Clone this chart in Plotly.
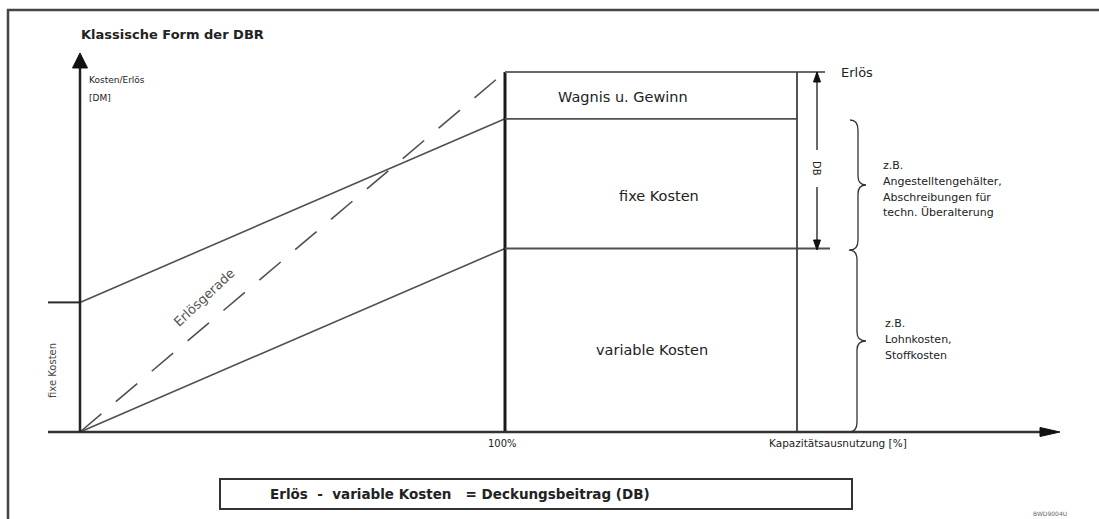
import plotly.graph_objects as go

# ---------------- data ----------------
capacity = [0, 100]            # Kapazitätsausnutzung [%]
fixed_costs = [36, 36]         # fixe Kosten [DM]
variable_costs = [0, 51]       # variable Kosten [DM]
total_costs = [36, 87]         # fixe + variable Kosten [DM]
revenue = [0, 100]             # Erlös (Erlösgerade) [DM]
tick_labels = ["100%", "Kapazitätsausnutzung [%]"]
block_labels = ["Wagnis u. Gewinn", "fixe Kosten", "variable Kosten"]

# ---------------- layout geometry (pixels) ----------------
W, H = 1099, 519
OX, OY = 80, 432            # origin pixel
PX_X = (505 - OX) / 100.0   # pixels per % capacity
PX_Y = 3.6                  # pixels per DM unit
FONT = "DejaVu Sans"
LINE = "#505050"
DARK = "#2a2a2a"


def xd(px):
    return (px - OX) / PX_X


def yd(py):
    return (OY - py) / PX_Y


def P(px, py):
    return px / W, 1 - py / H


def path(points, close=False):
    s = ""
    for i, (a, b) in enumerate(points):
        x, y = P(a, b)
        s += ("M" if i == 0 else "L") + f"{x:.5f},{y:.5f} "
    return s + ("Z" if close else "")


def brace(x_end, x_body, x_tip, y0, y1):
    ym = (y0 + y1) / 2
    def p(a, b):
        x, y = P(a, b)
        return f"{x:.5f},{y:.5f}"
    return (f"M{p(x_end, y0)} Q{p(x_body, y0)} {p(x_body, y0 + 10)} "
            f"L{p(x_body, ym - 9)} Q{p(x_body, ym)} {p(x_tip, ym)} "
            f"Q{p(x_body, ym)} {p(x_body, ym + 9)} "
            f"L{p(x_body, y1 - 10)} Q{p(x_body, y1)} {p(x_end, y1)}")


fig = go.Figure()


def line(x, y, color=LINE, width=1.6, dash=None):
    fig.add_trace(go.Scatter(x=x, y=y, mode="lines", hoverinfo="skip",
                             line=dict(color=color, width=width, dash=dash)))


# cost / revenue lines
line(capacity, total_costs)
line(capacity, variable_costs)
line(capacity, revenue, dash="28px,19px")

# fixed cost marker on the y axis
line([xd(48), 0], fixed_costs, color=DARK, width=2)

# block at 100 %
line([capacity[1], capacity[1]], [0, revenue[1]], color="#1a1a1a", width=3)
line([capacity[1], xd(825)], [revenue[1], revenue[1]], color="#6a6a6a", width=2)
line([capacity[1], xd(797)], [total_costs[1], total_costs[1]], color=LINE, width=1.8)
line([capacity[1], xd(830)], [variable_costs[1], variable_costs[1]], color=LINE, width=2)
line([xd(797), xd(797)], [0, revenue[1]], color="#404040", width=1.8)

# DB dimension line
line([xd(817), xd(817), None, xd(817), xd(817)],
     [revenue[1], yd(150), None, yd(187), variable_costs[1]], color=DARK, width=1.4)

# axes
line([xd(48), xd(1045)], [0, 0], color="#333333", width=2.5)
line([0, 0], [0, yd(66)], color="#222222", width=2.5)

shapes = []
# outer frame
shapes.append(dict(type="path", xref="paper", yref="paper",
                   path=path([(8, 519), (8, 10), (1099, 10)]),
                   line=dict(color="#454545", width=2.5)))
# formula box
x0, y0 = P(220, 479)
x1, y1 = P(852, 509)
shapes.append(dict(type="rect", xref="paper", yref="paper", x0=x0, y0=y1, x1=x1, y1=y0,
                   line=dict(color="#333333", width=2)))
# arrow heads
for pts in ([(80, 53), (72.5, 68), (87.5, 68)],
            [(1060, 432), (1040, 427.5), (1040, 436.5)],
            [(817, 72), (813.5, 82), (820.5, 82)],
            [(817, 250), (813.5, 240), (820.5, 240)]):
    shapes.append(dict(type="path", xref="paper", yref="paper", path=path(pts, True),
                       fillcolor="#111111", line=dict(color="#111111", width=1)))
# braces
shapes.append(dict(type="path", xref="paper", yref="paper",
                   path=brace(850, 858, 866, 120, 250),
                   line=dict(color="#333333", width=1.3)))
shapes.append(dict(type="path", xref="paper", yref="paper",
                   path=brace(849, 857, 866, 250, 432),
                   line=dict(color="#333333", width=1.3)))

ann = []


def text(t, px, py, size=10, anchor="left", angle=0, color="#222222", bold=False):
    x, y = P(px, py)
    ann.append(dict(text=f"<b>{t}</b>" if bold else t, x=x, y=y, xref="paper", yref="paper",
                    xanchor=anchor, yanchor="middle", showarrow=False, textangle=angle,
                    font=dict(family=FONT, size=size, color=color)))


text("Klassische Form der DBR", 79, 35, size=13, bold=True)
text("Kosten/Erlös", 87, 80, size=9)
text("[DM]", 87, 98, size=9)
text("fixe Kosten", 52, 371, size=10, anchor="center", angle=-90, color="#444444")
text("Erlösgerade", 204, 297, size=13, anchor="center", angle=-43, color="#555555")
text(block_labels[0], 623, 97, size=14.5, anchor="center")
text(block_labels[1], 659, 196, size=14.5, anchor="center")
text(block_labels[2], 652, 350, size=14.5, anchor="center")
text("Erlös", 839, 73, size=13)
text("DB", 817, 168, size=10, anchor="center", angle=90)
for i, t in enumerate(["z.B.", "Angestelltengehälter,", "Abschreibungen für", "techn. Überalterung"]):
    text(t, 881, 165 + 16 * i, size=11)
for i, t in enumerate(["z.B.", "Lohnkosten,", "Stoffkosten"]):
    text(t, 883, 323 + 16 * i, size=11)
text(tick_labels[0], 502, 443, size=10, anchor="center")
text(tick_labels[1], 767, 443, size=10.5)
nb = "\u00a0"
text(f"Erlös{nb*2}-{nb*2}variable Kosten{nb*3}={nb}Deckungsbeitrag (DB)", 268, 494, size=13.5, bold=True)
text("BWD9004U", 1050, 513, size=6, anchor="center", color="#666666")

fig.update_layout(
    width=W, height=H, margin=dict(l=0, r=0, t=0, b=0),
    paper_bgcolor="white", plot_bgcolor="white",
    showlegend=False, hovermode=False,
    xaxis=dict(range=[xd(0), xd(W)], visible=False, fixedrange=True),
    yaxis=dict(range=[yd(H), yd(0)], visible=False, fixedrange=True),
    shapes=shapes, annotations=ann,
)

fig.write_html("out.html", config={"displayModeBar": False},
               post_script="document.body.style.margin='0';document.body.style.overflow='hidden';")
